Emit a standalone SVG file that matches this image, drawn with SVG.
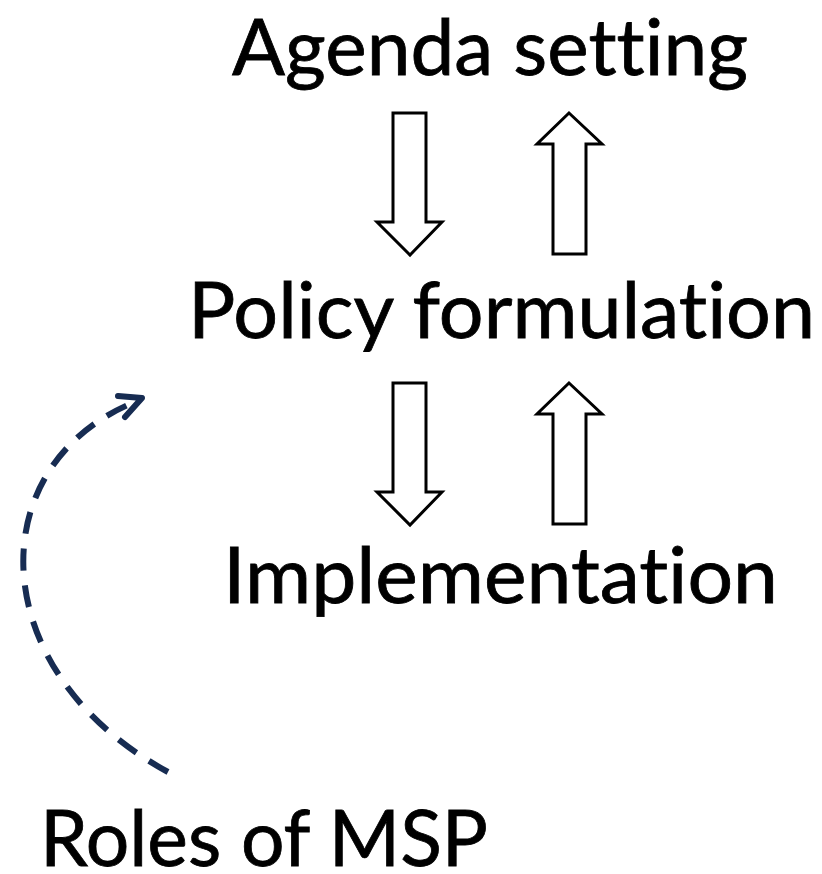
<svg xmlns="http://www.w3.org/2000/svg" width="822" height="874" viewBox="0 0 822 874">
  <defs>
    <style>
      .label { font-family: Lato, "Liberation Sans", sans-serif; font-size: 78px; fill: #000; stroke: #000; stroke-width: 0.8; font-variant-ligatures: none; font-feature-settings: "liga" 0, "clig" 0; }
      .block { fill: #fff; stroke: #000; stroke-width: 3; stroke-linejoin: miter; }
      .msp { fill: none; stroke: #172c52; stroke-width: 6; }
    </style>
  </defs>
  <rect width="822" height="874" fill="#fff"/>

  <g id="agenda-setting">
    <text class="label" x="232" y="75" textLength="516" lengthAdjust="spacingAndGlyphs">Agenda setting</text>
  </g>
  <g id="policy-formulation">
    <text class="label" x="188" y="338" textLength="627" lengthAdjust="spacingAndGlyphs">Policy formulation</text>
  </g>
  <g id="implementation">
    <text class="label" x="223" y="603" textLength="555" lengthAdjust="spacingAndGlyphs">Implementation</text>
  </g>
  <g id="roles-of-msp">
    <text class="label" x="40" y="866" textLength="448" lengthAdjust="spacingAndGlyphs">Roles of MSP</text>
  </g>

  <g id="connectors">
    <!-- block arrows between agenda setting and policy formulation -->
    <polygon class="block" points="393,113 426,113 426,222 442,222 410,255 377,222 393,222"/>
    <polygon class="block" points="569,113 602,144 586,144 586,254 553,254 553,144 537,144"/>
    <!-- block arrows between policy formulation and implementation -->
    <polygon class="block" points="393,383 426,383 426,492 442,492 410,525 377,492 393,492"/>
    <polygon class="block" points="569,383 602,414 586,414 586,524 553,524 553,414 537,414"/>
    <!-- dashed curve from roles of MSP up towards policy formulation -->
    <path class="msp" stroke-dasharray="22 15" d="M168,772 C-20,670 -20,460 140,400"/>
    <path class="msp" stroke-linecap="round" stroke-linejoin="round" d="M118,396 L142,398 L125,417"/>
  </g>
</svg>
